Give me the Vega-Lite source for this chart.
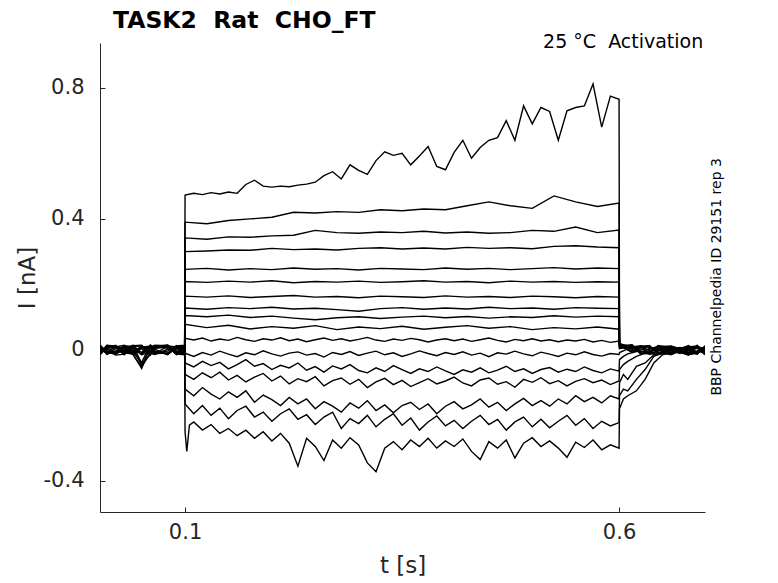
{
  "$schema": "https://vega.github.io/schema/vega-lite/v6.json",
  "width": 605,
  "height": 469,
  "autosize": "none",
  "padding": {"left": 100, "top": 43, "right": 73, "bottom": 71},
  "background": "white",
  "config": {
    "view": {"stroke": null},
    "font": "DejaVu Sans",
    "axis": {
      "grid": false,
      "domainColor": "#262626",
      "tickColor": "#262626",
      "labelColor": "#262626",
      "titleColor": "#262626",
      "labelFont": "DejaVu Sans",
      "titleFont": "DejaVu Sans",
      "labelFontSize": 21,
      "titleFontSize": 23,
      "titleFontWeight": "normal",
      "tickSize": -5
    }
  },
  "title": {
    "text": "TASK2\u00a0\u00a0Rat\u00a0\u00a0CHO_FT",
    "anchor": "start",
    "frame": "group",
    "font": "DejaVu Sans",
    "fontSize": 23.5,
    "fontWeight": "bold",
    "color": "black",
    "dx": 13,
    "offset": 0
  },
  "data": {"values": [
    {"s":1,"t":0.002,"i":0.010},{"s":1,"t":0.01,"i":-0.004},{"s":1,"t":0.02,"i":-0.012},{"s":1,"t":0.03,"i":0.006},{"s":1,"t":0.04,"i":0.013},{"s":1,"t":0.05,"i":-0.014},{"s":1,"t":0.06,"i":0.009},{"s":1,"t":0.065,"i":-0.009},{"s":1,"t":0.08,"i":-0.011},{"s":1,"t":0.09,"i":0.003},{"s":1,"t":0.0995,"i":0.012},
    {"s":1,"t":0.10,"i":0.473},{"s":1,"t":0.11,"i":0.478},{"s":1,"t":0.12,"i":0.474},{"s":1,"t":0.13,"i":0.480},{"s":1,"t":0.14,"i":0.476},{"s":1,"t":0.15,"i":0.482},{"s":1,"t":0.16,"i":0.478},{"s":1,"t":0.17,"i":0.505},{"s":1,"t":0.18,"i":0.518},{"s":1,"t":0.19,"i":0.500},
    {"s":1,"t":0.20,"i":0.497},{"s":1,"t":0.21,"i":0.500},{"s":1,"t":0.22,"i":0.498},{"s":1,"t":0.23,"i":0.503},{"s":1,"t":0.24,"i":0.506},{"s":1,"t":0.25,"i":0.512},{"s":1,"t":0.26,"i":0.532},{"s":1,"t":0.27,"i":0.544},{"s":1,"t":0.28,"i":0.522},{"s":1,"t":0.29,"i":0.565},
    {"s":1,"t":0.30,"i":0.548},{"s":1,"t":0.31,"i":0.536},{"s":1,"t":0.32,"i":0.578},{"s":1,"t":0.33,"i":0.605},{"s":1,"t":0.34,"i":0.594},{"s":1,"t":0.35,"i":0.600},{"s":1,"t":0.36,"i":0.565},{"s":1,"t":0.37,"i":0.592},{"s":1,"t":0.38,"i":0.621},{"s":1,"t":0.39,"i":0.560},
    {"s":1,"t":0.40,"i":0.550},{"s":1,"t":0.41,"i":0.603},{"s":1,"t":0.42,"i":0.640},{"s":1,"t":0.43,"i":0.585},{"s":1,"t":0.44,"i":0.618},{"s":1,"t":0.45,"i":0.640},{"s":1,"t":0.46,"i":0.648},{"s":1,"t":0.47,"i":0.700},{"s":1,"t":0.48,"i":0.640},{"s":1,"t":0.49,"i":0.745},
    {"s":1,"t":0.50,"i":0.690},{"s":1,"t":0.51,"i":0.740},{"s":1,"t":0.52,"i":0.728},{"s":1,"t":0.53,"i":0.640},{"s":1,"t":0.54,"i":0.730},{"s":1,"t":0.55,"i":0.740},{"s":1,"t":0.56,"i":0.745},{"s":1,"t":0.57,"i":0.812},{"s":1,"t":0.58,"i":0.680},{"s":1,"t":0.59,"i":0.775},{"s":1,"t":0.60,"i":0.765},
    {"s":1,"t":0.6005,"i":0.018},{"s":1,"t":0.615,"i":0.010},{"s":1,"t":0.625,"i":-0.009},{"s":1,"t":0.635,"i":-0.008},{"s":1,"t":0.645,"i":0.012},{"s":1,"t":0.66,"i":0.009},{"s":1,"t":0.68,"i":-0.013},{"s":1,"t":0.69,"i":-0.006},{"s":1,"t":0.699,"i":0.004},

    {"s":2,"t":0.002,"i":-0.012},{"s":2,"t":0.01,"i":0.013},{"s":2,"t":0.02,"i":0.009},{"s":2,"t":0.03,"i":-0.010},{"s":2,"t":0.04,"i":-0.006},{"s":2,"t":0.05,"i":0.011},{"s":2,"t":0.06,"i":-0.013},{"s":2,"t":0.065,"i":0.005},{"s":2,"t":0.08,"i":0.010},{"s":2,"t":0.09,"i":-0.012},{"s":2,"t":0.0995,"i":-0.004},
    {"s":2,"t":0.1,"i":0.390},{"s":2,"t":0.125,"i":0.385},{"s":2,"t":0.15,"i":0.395},{"s":2,"t":0.175,"i":0.400},{"s":2,"t":0.2,"i":0.405},{"s":2,"t":0.225,"i":0.420},{"s":2,"t":0.25,"i":0.418},{"s":2,"t":0.275,"i":0.422},{"s":2,"t":0.3,"i":0.420},{"s":2,"t":0.325,"i":0.428},{"s":2,"t":0.35,"i":0.425},
    {"s":2,"t":0.375,"i":0.430},{"s":2,"t":0.4,"i":0.428},{"s":2,"t":0.425,"i":0.440},{"s":2,"t":0.45,"i":0.452},{"s":2,"t":0.475,"i":0.440},{"s":2,"t":0.5,"i":0.432},{"s":2,"t":0.525,"i":0.470},{"s":2,"t":0.55,"i":0.452},{"s":2,"t":0.575,"i":0.438},{"s":2,"t":0.6,"i":0.448},
    {"s":2,"t":0.6005,"i":0.020},{"s":2,"t":0.615,"i":0.002},{"s":2,"t":0.625,"i":0.011},{"s":2,"t":0.635,"i":0.012},{"s":2,"t":0.645,"i":-0.008},{"s":2,"t":0.66,"i":-0.010},{"s":2,"t":0.68,"i":0.008},{"s":2,"t":0.69,"i":0.010},{"s":2,"t":0.699,"i":-0.014},

    {"s":3,"t":0.002,"i":0.009},{"s":3,"t":0.01,"i":-0.006},{"s":3,"t":0.02,"i":-0.014},{"s":3,"t":0.03,"i":0.011},{"s":3,"t":0.04,"i":0.005},{"s":3,"t":0.05,"i":-0.048},{"s":3,"t":0.06,"i":0.006},{"s":3,"t":0.065,"i":-0.013},{"s":3,"t":0.08,"i":0.012},{"s":3,"t":0.09,"i":0.009},{"s":3,"t":0.0995,"i":-0.008},
    {"s":3,"t":0.1,"i":0.342},{"s":3,"t":0.125,"i":0.338},{"s":3,"t":0.15,"i":0.345},{"s":3,"t":0.175,"i":0.344},{"s":3,"t":0.2,"i":0.348},{"s":3,"t":0.225,"i":0.350},{"s":3,"t":0.25,"i":0.365},{"s":3,"t":0.275,"i":0.358},{"s":3,"t":0.3,"i":0.356},{"s":3,"t":0.325,"i":0.360},{"s":3,"t":0.35,"i":0.358},
    {"s":3,"t":0.375,"i":0.362},{"s":3,"t":0.4,"i":0.357},{"s":3,"t":0.425,"i":0.360},{"s":3,"t":0.45,"i":0.356},{"s":3,"t":0.475,"i":0.358},{"s":3,"t":0.5,"i":0.365},{"s":3,"t":0.525,"i":0.362},{"s":3,"t":0.55,"i":0.375},{"s":3,"t":0.575,"i":0.358},{"s":3,"t":0.6,"i":0.366},
    {"s":3,"t":0.6005,"i":0.012},{"s":3,"t":0.615,"i":0.016},{"s":3,"t":0.625,"i":-0.012},{"s":3,"t":0.635,"i":-0.004},{"s":3,"t":0.645,"i":0.005},{"s":3,"t":0.66,"i":0.007},{"s":3,"t":0.68,"i":-0.015},{"s":3,"t":0.69,"i":-0.010},{"s":3,"t":0.699,"i":0.009},

    {"s":4,"t":0.002,"i":-0.005},{"s":4,"t":0.01,"i":0.008},{"s":4,"t":0.02,"i":0.013},{"s":4,"t":0.03,"i":-0.004},{"s":4,"t":0.04,"i":-0.011},{"s":4,"t":0.05,"i":0.004},{"s":4,"t":0.06,"i":-0.016},{"s":4,"t":0.065,"i":0.012},{"s":4,"t":0.08,"i":0.005},{"s":4,"t":0.09,"i":-0.010},{"s":4,"t":0.0995,"i":0.012},
    {"s":4,"t":0.1,"i":0.300},{"s":4,"t":0.125,"i":0.302},{"s":4,"t":0.15,"i":0.305},{"s":4,"t":0.175,"i":0.304},{"s":4,"t":0.2,"i":0.310},{"s":4,"t":0.225,"i":0.306},{"s":4,"t":0.25,"i":0.308},{"s":4,"t":0.275,"i":0.305},{"s":4,"t":0.3,"i":0.310},{"s":4,"t":0.325,"i":0.312},{"s":4,"t":0.35,"i":0.308},
    {"s":4,"t":0.375,"i":0.311},{"s":4,"t":0.4,"i":0.308},{"s":4,"t":0.425,"i":0.313},{"s":4,"t":0.45,"i":0.310},{"s":4,"t":0.475,"i":0.312},{"s":4,"t":0.5,"i":0.309},{"s":4,"t":0.525,"i":0.316},{"s":4,"t":0.55,"i":0.318},{"s":4,"t":0.575,"i":0.314},{"s":4,"t":0.6,"i":0.312},
    {"s":4,"t":0.6005,"i":0.015},{"s":4,"t":0.615,"i":-0.006},{"s":4,"t":0.625,"i":0.008},{"s":4,"t":0.635,"i":0.013},{"s":4,"t":0.645,"i":-0.013},{"s":4,"t":0.66,"i":-0.012},{"s":4,"t":0.68,"i":0.004},{"s":4,"t":0.69,"i":0.012},{"s":4,"t":0.699,"i":-0.007},

    {"s":5,"t":0.002,"i":0.014},{"s":5,"t":0.01,"i":-0.012},{"s":5,"t":0.02,"i":-0.007},{"s":5,"t":0.03,"i":0.013},{"s":5,"t":0.04,"i":0.010},{"s":5,"t":0.05,"i":-0.012},{"s":5,"t":0.06,"i":0.013},{"s":5,"t":0.065,"i":-0.003},{"s":5,"t":0.08,"i":-0.014},{"s":5,"t":0.09,"i":0.006},{"s":5,"t":0.0995,"i":0.004},
    {"s":5,"t":0.1,"i":0.246},{"s":5,"t":0.125,"i":0.249},{"s":5,"t":0.15,"i":0.244},{"s":5,"t":0.175,"i":0.248},{"s":5,"t":0.2,"i":0.245},{"s":5,"t":0.225,"i":0.250},{"s":5,"t":0.25,"i":0.246},{"s":5,"t":0.275,"i":0.248},{"s":5,"t":0.3,"i":0.244},{"s":5,"t":0.325,"i":0.249},{"s":5,"t":0.35,"i":0.247},
    {"s":5,"t":0.375,"i":0.245},{"s":5,"t":0.4,"i":0.250},{"s":5,"t":0.425,"i":0.246},{"s":5,"t":0.45,"i":0.249},{"s":5,"t":0.475,"i":0.245},{"s":5,"t":0.5,"i":0.248},{"s":5,"t":0.525,"i":0.251},{"s":5,"t":0.55,"i":0.247},{"s":5,"t":0.575,"i":0.250},{"s":5,"t":0.6,"i":0.248},
    {"s":5,"t":0.6005,"i":0.007},{"s":5,"t":0.615,"i":0.014},{"s":5,"t":0.625,"i":-0.004},{"s":5,"t":0.635,"i":-0.010},{"s":5,"t":0.645,"i":0.009},{"s":5,"t":0.66,"i":0.012},{"s":5,"t":0.68,"i":-0.006},{"s":5,"t":0.69,"i":-0.013},{"s":5,"t":0.699,"i":0.013},

    {"s":6,"t":0.002,"i":-0.015},{"s":6,"t":0.01,"i":0.010},{"s":6,"t":0.02,"i":0.006},{"s":6,"t":0.03,"i":-0.008},{"s":6,"t":0.04,"i":-0.013},{"s":6,"t":0.05,"i":0.008},{"s":6,"t":0.06,"i":0.004},{"s":6,"t":0.065,"i":0.014},{"s":6,"t":0.08,"i":0.011},{"s":6,"t":0.09,"i":-0.002},{"s":6,"t":0.0995,"i":-0.011},
    {"s":6,"t":0.1,"i":0.209},{"s":6,"t":0.125,"i":0.206},{"s":6,"t":0.15,"i":0.210},{"s":6,"t":0.175,"i":0.207},{"s":6,"t":0.2,"i":0.211},{"s":6,"t":0.225,"i":0.205},{"s":6,"t":0.25,"i":0.209},{"s":6,"t":0.275,"i":0.207},{"s":6,"t":0.3,"i":0.210},{"s":6,"t":0.325,"i":0.206},{"s":6,"t":0.35,"i":0.208},
    {"s":6,"t":0.375,"i":0.211},{"s":6,"t":0.4,"i":0.207},{"s":6,"t":0.425,"i":0.209},{"s":6,"t":0.45,"i":0.205},{"s":6,"t":0.475,"i":0.210},{"s":6,"t":0.5,"i":0.207},{"s":6,"t":0.525,"i":0.209},{"s":6,"t":0.55,"i":0.206},{"s":6,"t":0.575,"i":0.208},{"s":6,"t":0.6,"i":0.207},
    {"s":6,"t":0.6005,"i":0.019},{"s":6,"t":0.615,"i":0.002},{"s":6,"t":0.625,"i":0.012},{"s":6,"t":0.635,"i":0.008},{"s":6,"t":0.645,"i":-0.006},{"s":6,"t":0.66,"i":-0.015},{"s":6,"t":0.68,"i":0.011},{"s":6,"t":0.69,"i":0.007},{"s":6,"t":0.699,"i":-0.004},

    {"s":7,"t":0.002,"i":0.004},{"s":7,"t":0.01,"i":-0.009},{"s":7,"t":0.02,"i":0.012},{"s":7,"t":0.03,"i":0.004},{"s":7,"t":0.04,"i":-0.014},{"s":7,"t":0.05,"i":-0.052},{"s":7,"t":0.06,"i":-0.010},{"s":7,"t":0.065,"i":-0.010},{"s":7,"t":0.08,"i":-0.004},{"s":7,"t":0.09,"i":0.012},{"s":7,"t":0.0995,"i":0.014},
    {"s":7,"t":0.1,"i":0.164},{"s":7,"t":0.125,"i":0.161},{"s":7,"t":0.15,"i":0.165},{"s":7,"t":0.175,"i":0.160},{"s":7,"t":0.2,"i":0.163},{"s":7,"t":0.225,"i":0.166},{"s":7,"t":0.25,"i":0.161},{"s":7,"t":0.275,"i":0.163},{"s":7,"t":0.3,"i":0.159},{"s":7,"t":0.325,"i":0.164},{"s":7,"t":0.35,"i":0.162},
    {"s":7,"t":0.375,"i":0.160},{"s":7,"t":0.4,"i":0.165},{"s":7,"t":0.425,"i":0.161},{"s":7,"t":0.45,"i":0.163},{"s":7,"t":0.475,"i":0.160},{"s":7,"t":0.5,"i":0.164},{"s":7,"t":0.525,"i":0.162},{"s":7,"t":0.55,"i":0.159},{"s":7,"t":0.575,"i":0.163},{"s":7,"t":0.6,"i":0.161},
    {"s":7,"t":0.6005,"i":0.010},{"s":7,"t":0.615,"i":0.013},{"s":7,"t":0.625,"i":-0.011},{"s":7,"t":0.635,"i":-0.012},{"s":7,"t":0.645,"i":0.013},{"s":7,"t":0.66,"i":0.005},{"s":7,"t":0.68,"i":-0.010},{"s":7,"t":0.69,"i":-0.003},{"s":7,"t":0.699,"i":0.008},

    {"s":8,"t":0.002,"i":-0.008},{"s":8,"t":0.01,"i":0.005},{"s":8,"t":0.02,"i":-0.016},{"s":8,"t":0.03,"i":-0.013},{"s":8,"t":0.04,"i":0.008},{"s":8,"t":0.05,"i":0.013},{"s":8,"t":0.06,"i":-0.006},{"s":8,"t":0.065,"i":0.007},{"s":8,"t":0.08,"i":0.015},{"s":8,"t":0.09,"i":-0.006},{"s":8,"t":0.0995,"i":-0.013},
    {"s":8,"t":0.1,"i":0.128},{"s":8,"t":0.125,"i":0.124},{"s":8,"t":0.15,"i":0.129},{"s":8,"t":0.175,"i":0.126},{"s":8,"t":0.2,"i":0.130},{"s":8,"t":0.225,"i":0.125},{"s":8,"t":0.25,"i":0.127},{"s":8,"t":0.275,"i":0.123},{"s":8,"t":0.3,"i":0.118},{"s":8,"t":0.325,"i":0.126},{"s":8,"t":0.35,"i":0.129},
    {"s":8,"t":0.375,"i":0.124},{"s":8,"t":0.4,"i":0.128},{"s":8,"t":0.425,"i":0.125},{"s":8,"t":0.45,"i":0.130},{"s":8,"t":0.475,"i":0.126},{"s":8,"t":0.5,"i":0.128},{"s":8,"t":0.525,"i":0.124},{"s":8,"t":0.55,"i":0.129},{"s":8,"t":0.575,"i":0.127},{"s":8,"t":0.6,"i":0.126},
    {"s":8,"t":0.6005,"i":0.014},{"s":8,"t":0.615,"i":-0.008},{"s":8,"t":0.625,"i":0.006},{"s":8,"t":0.635,"i":0.010},{"s":8,"t":0.645,"i":-0.010},{"s":8,"t":0.66,"i":0.002},{"s":8,"t":0.68,"i":-0.016},{"s":8,"t":0.69,"i":0.014},{"s":8,"t":0.699,"i":-0.010},

    {"s":9,"t":0.002,"i":0.012},{"s":9,"t":0.01,"i":-0.014},{"s":9,"t":0.02,"i":0.004},{"s":9,"t":0.03,"i":0.009},{"s":9,"t":0.04,"i":-0.009},{"s":9,"t":0.05,"i":-0.007},{"s":9,"t":0.06,"i":0.014},{"s":9,"t":0.065,"i":-0.005},{"s":9,"t":0.08,"i":-0.012},{"s":9,"t":0.09,"i":0.011},{"s":9,"t":0.0995,"i":0.007},
    {"s":9,"t":0.1,"i":0.105},{"s":9,"t":0.125,"i":0.101},{"s":9,"t":0.15,"i":0.106},{"s":9,"t":0.175,"i":0.099},{"s":9,"t":0.2,"i":0.103},{"s":9,"t":0.225,"i":0.097},{"s":9,"t":0.25,"i":0.092},{"s":9,"t":0.275,"i":0.098},{"s":9,"t":0.3,"i":0.101},{"s":9,"t":0.325,"i":0.096},{"s":9,"t":0.35,"i":0.100},
    {"s":9,"t":0.375,"i":0.103},{"s":9,"t":0.4,"i":0.098},{"s":9,"t":0.425,"i":0.102},{"s":9,"t":0.45,"i":0.097},{"s":9,"t":0.475,"i":0.101},{"s":9,"t":0.5,"i":0.099},{"s":9,"t":0.525,"i":0.104},{"s":9,"t":0.55,"i":0.100},{"s":9,"t":0.575,"i":0.103},{"s":9,"t":0.6,"i":0.101},
    {"s":9,"t":0.6005,"i":0.004},{"s":9,"t":0.615,"i":0.011},{"s":9,"t":0.625,"i":-0.013},{"s":9,"t":0.635,"i":0.005},{"s":9,"t":0.645,"i":0.004},{"s":9,"t":0.66,"i":-0.008},{"s":9,"t":0.68,"i":0.013},{"s":9,"t":0.69,"i":-0.008},{"s":9,"t":0.699,"i":0.002},

    {"s":10,"t":0.002,"i":-0.004},{"s":10,"t":0.01,"i":0.011},{"s":10,"t":0.02,"i":-0.011},{"s":10,"t":0.03,"i":-0.002},{"s":10,"t":0.04,"i":0.014},{"s":10,"t":0.05,"i":-0.042},{"s":10,"t":0.06,"i":-0.014},{"s":10,"t":0.065,"i":0.010},{"s":10,"t":0.08,"i":0.008},{"s":10,"t":0.09,"i":-0.013},{"s":10,"t":0.0995,"i":-0.015},
    {"s":10,"t":0.1,"i":0.078},{"s":10,"t":0.125,"i":0.068},{"s":10,"t":0.15,"i":0.075},{"s":10,"t":0.175,"i":0.064},{"s":10,"t":0.2,"i":0.071},{"s":10,"t":0.225,"i":0.066},{"s":10,"t":0.25,"i":0.074},{"s":10,"t":0.275,"i":0.062},{"s":10,"t":0.3,"i":0.070},{"s":10,"t":0.325,"i":0.065},{"s":10,"t":0.35,"i":0.072},
    {"s":10,"t":0.375,"i":0.063},{"s":10,"t":0.4,"i":0.069},{"s":10,"t":0.425,"i":0.074},{"s":10,"t":0.45,"i":0.066},{"s":10,"t":0.475,"i":0.071},{"s":10,"t":0.5,"i":0.062},{"s":10,"t":0.525,"i":0.068},{"s":10,"t":0.55,"i":0.064},{"s":10,"t":0.575,"i":0.070},{"s":10,"t":0.6,"i":0.063},
    {"s":10,"t":0.6005,"i":0.016},{"s":10,"t":0.615,"i":-0.004},{"s":10,"t":0.625,"i":0.009},{"s":10,"t":0.635,"i":-0.011},{"s":10,"t":0.645,"i":-0.014},{"s":10,"t":0.66,"i":0.010},{"s":10,"t":0.68,"i":-0.002},{"s":10,"t":0.69,"i":0.005},{"s":10,"t":0.699,"i":-0.015},

    {"s":11,"t":0.002,"i":0.015},{"s":11,"t":0.01,"i":-0.007},{"s":11,"t":0.02,"i":0.009},{"s":11,"t":0.03,"i":0.014},{"s":11,"t":0.04,"i":-0.004},{"s":11,"t":0.05,"i":0.009},{"s":11,"t":0.06,"i":0.011},{"s":11,"t":0.065,"i":-0.012},{"s":11,"t":0.08,"i":-0.009},{"s":11,"t":0.09,"i":0.004},{"s":11,"t":0.0995,"i":0.013},
    {"s":11,"t":0.10,"i":0.035},{"s":11,"t":0.11,"i":0.030},{"s":11,"t":0.12,"i":0.036},{"s":11,"t":0.13,"i":0.027},{"s":11,"t":0.14,"i":0.033},{"s":11,"t":0.15,"i":0.029},{"s":11,"t":0.16,"i":0.038},{"s":11,"t":0.17,"i":0.031},{"s":11,"t":0.18,"i":0.026},{"s":11,"t":0.19,"i":0.034},
    {"s":11,"t":0.20,"i":0.030},{"s":11,"t":0.21,"i":0.037},{"s":11,"t":0.22,"i":0.028},{"s":11,"t":0.23,"i":0.033},{"s":11,"t":0.24,"i":0.025},{"s":11,"t":0.25,"i":0.031},{"s":11,"t":0.26,"i":0.036},{"s":11,"t":0.27,"i":0.029},{"s":11,"t":0.28,"i":0.034},{"s":11,"t":0.29,"i":0.027},
    {"s":11,"t":0.30,"i":0.032},{"s":11,"t":0.31,"i":0.038},{"s":11,"t":0.32,"i":0.030},{"s":11,"t":0.33,"i":0.026},{"s":11,"t":0.34,"i":0.033},{"s":11,"t":0.35,"i":0.029},{"s":11,"t":0.36,"i":0.035},{"s":11,"t":0.37,"i":0.031},{"s":11,"t":0.38,"i":0.024},{"s":11,"t":0.39,"i":0.030},
    {"s":11,"t":0.40,"i":0.034},{"s":11,"t":0.41,"i":0.028},{"s":11,"t":0.42,"i":0.033},{"s":11,"t":0.43,"i":0.026},{"s":11,"t":0.44,"i":0.031},{"s":11,"t":0.45,"i":0.036},{"s":11,"t":0.46,"i":0.029},{"s":11,"t":0.47,"i":0.024},{"s":11,"t":0.48,"i":0.032},{"s":11,"t":0.49,"i":0.028},
    {"s":11,"t":0.50,"i":0.034},{"s":11,"t":0.51,"i":0.027},{"s":11,"t":0.52,"i":0.031},{"s":11,"t":0.53,"i":0.025},{"s":11,"t":0.54,"i":0.030},{"s":11,"t":0.55,"i":0.027},{"s":11,"t":0.56,"i":0.032},{"s":11,"t":0.57,"i":0.024},{"s":11,"t":0.58,"i":0.029},{"s":11,"t":0.59,"i":0.023},{"s":11,"t":0.60,"i":0.027},
    {"s":11,"t":0.6005,"i":0.008},{"s":11,"t":0.615,"i":0.006},{"s":11,"t":0.625,"i":-0.006},{"s":11,"t":0.635,"i":0.002},{"s":11,"t":0.645,"i":0.011},{"s":11,"t":0.66,"i":-0.013},{"s":11,"t":0.68,"i":0.006},{"s":11,"t":0.69,"i":-0.012},{"s":11,"t":0.699,"i":0.011},

    {"s":12,"t":0.002,"i":-0.013},{"s":12,"t":0.01,"i":0.004},{"s":12,"t":0.02,"i":0.014},{"s":12,"t":0.03,"i":-0.011},{"s":12,"t":0.04,"i":0.004},{"s":12,"t":0.05,"i":-0.015},{"s":12,"t":0.06,"i":-0.006},{"s":12,"t":0.065,"i":0.009},{"s":12,"t":0.08,"i":0.013},{"s":12,"t":0.09,"i":-0.015},{"s":12,"t":0.0995,"i":-0.007},
    {"s":12,"t":0.10,"i":-0.010},{"s":12,"t":0.11,"i":-0.020},{"s":12,"t":0.12,"i":-0.008},{"s":12,"t":0.13,"i":-0.016},{"s":12,"t":0.14,"i":-0.004},{"s":12,"t":0.15,"i":-0.013},{"s":12,"t":0.16,"i":-0.021},{"s":12,"t":0.17,"i":-0.009},{"s":12,"t":0.18,"i":-0.015},{"s":12,"t":0.19,"i":-0.003},
    {"s":12,"t":0.20,"i":-0.012},{"s":12,"t":0.21,"i":-0.019},{"s":12,"t":0.22,"i":-0.010},{"s":12,"t":0.23,"i":-0.006},{"s":12,"t":0.24,"i":-0.016},{"s":12,"t":0.25,"i":-0.011},{"s":12,"t":0.26,"i":-0.022},{"s":12,"t":0.27,"i":-0.008},{"s":12,"t":0.28,"i":-0.014},{"s":12,"t":0.29,"i":-0.005},
    {"s":12,"t":0.30,"i":-0.017},{"s":12,"t":0.31,"i":-0.010},{"s":12,"t":0.32,"i":-0.004},{"s":12,"t":0.33,"i":-0.015},{"s":12,"t":0.34,"i":-0.009},{"s":12,"t":0.35,"i":-0.020},{"s":12,"t":0.36,"i":-0.012},{"s":12,"t":0.37,"i":-0.003},{"s":12,"t":0.38,"i":-0.011},{"s":12,"t":0.39,"i":-0.018},
    {"s":12,"t":0.40,"i":-0.008},{"s":12,"t":0.41,"i":-0.014},{"s":12,"t":0.42,"i":-0.006},{"s":12,"t":0.43,"i":-0.016},{"s":12,"t":0.44,"i":-0.010},{"s":12,"t":0.45,"i":-0.021},{"s":12,"t":0.46,"i":-0.009},{"s":12,"t":0.47,"i":-0.013},{"s":12,"t":0.48,"i":-0.004},{"s":12,"t":0.49,"i":-0.012},
    {"s":12,"t":0.50,"i":-0.018},{"s":12,"t":0.51,"i":-0.007},{"s":12,"t":0.52,"i":-0.013},{"s":12,"t":0.53,"i":-0.020},{"s":12,"t":0.54,"i":-0.010},{"s":12,"t":0.55,"i":-0.015},{"s":12,"t":0.56,"i":-0.006},{"s":12,"t":0.57,"i":-0.014},{"s":12,"t":0.58,"i":-0.019},{"s":12,"t":0.59,"i":-0.011},{"s":12,"t":0.60,"i":-0.014},
    {"s":12,"t":0.6005,"i":-0.008},{"s":12,"t":0.615,"i":0.009},{"s":12,"t":0.625,"i":0.013},{"s":12,"t":0.635,"i":-0.014},{"s":12,"t":0.645,"i":-0.003},{"s":12,"t":0.66,"i":0.003},{"s":12,"t":0.68,"i":-0.008},{"s":12,"t":0.69,"i":0.009},{"s":12,"t":0.699,"i":-0.005},

    {"s":13,"t":0.002,"i":0.005},{"s":13,"t":0.01,"i":-0.011},{"s":13,"t":0.02,"i":-0.006},{"s":13,"t":0.03,"i":0.007},{"s":13,"t":0.04,"i":-0.014},{"s":13,"t":0.05,"i":-0.057},{"s":13,"t":0.06,"i":0.012},{"s":13,"t":0.065,"i":0.002},{"s":13,"t":0.08,"i":-0.015},{"s":13,"t":0.09,"i":0.010},{"s":13,"t":0.0995,"i":0.005},
    {"s":13,"t":0.10,"i":-0.040},{"s":13,"t":0.11,"i":-0.052},{"s":13,"t":0.12,"i":-0.035},{"s":13,"t":0.13,"i":-0.048},{"s":13,"t":0.14,"i":-0.038},{"s":13,"t":0.15,"i":-0.058},{"s":13,"t":0.16,"i":-0.045},{"s":13,"t":0.17,"i":-0.030},{"s":13,"t":0.18,"i":-0.050},{"s":13,"t":0.19,"i":-0.042},
    {"s":13,"t":0.20,"i":-0.060},{"s":13,"t":0.21,"i":-0.047},{"s":13,"t":0.22,"i":-0.055},{"s":13,"t":0.23,"i":-0.040},{"s":13,"t":0.24,"i":-0.062},{"s":13,"t":0.25,"i":-0.051},{"s":13,"t":0.26,"i":-0.068},{"s":13,"t":0.27,"i":-0.049},{"s":13,"t":0.28,"i":-0.058},{"s":13,"t":0.29,"i":-0.045},
    {"s":13,"t":0.30,"i":-0.063},{"s":13,"t":0.31,"i":-0.070},{"s":13,"t":0.32,"i":-0.055},{"s":13,"t":0.33,"i":-0.066},{"s":13,"t":0.34,"i":-0.048},{"s":13,"t":0.35,"i":-0.060},{"s":13,"t":0.36,"i":-0.072},{"s":13,"t":0.37,"i":-0.058},{"s":13,"t":0.38,"i":-0.066},{"s":13,"t":0.39,"i":-0.052},
    {"s":13,"t":0.40,"i":-0.064},{"s":13,"t":0.41,"i":-0.075},{"s":13,"t":0.42,"i":-0.061},{"s":13,"t":0.43,"i":-0.068},{"s":13,"t":0.44,"i":-0.055},{"s":13,"t":0.45,"i":-0.070},{"s":13,"t":0.46,"i":-0.062},{"s":13,"t":0.47,"i":-0.050},{"s":13,"t":0.48,"i":-0.066},{"s":13,"t":0.49,"i":-0.058},
    {"s":13,"t":0.50,"i":-0.072},{"s":13,"t":0.51,"i":-0.060},{"s":13,"t":0.52,"i":-0.054},{"s":13,"t":0.53,"i":-0.068},{"s":13,"t":0.54,"i":-0.059},{"s":13,"t":0.55,"i":-0.066},{"s":13,"t":0.56,"i":-0.052},{"s":13,"t":0.57,"i":-0.063},{"s":13,"t":0.58,"i":-0.070},{"s":13,"t":0.59,"i":-0.058},{"s":13,"t":0.60,"i":-0.065},
    {"s":13,"t":0.6005,"i":-0.030},{"s":13,"t":0.605,"i":-0.020},{"s":13,"t":0.61,"i":-0.012},{"s":13,"t":0.62,"i":-0.005},{"s":13,"t":0.63,"i":0.005},{"s":13,"t":0.64,"i":-0.009},{"s":13,"t":0.65,"i":0.006},{"s":13,"t":0.67,"i":-0.011},{"s":13,"t":0.69,"i":0.010},{"s":13,"t":0.699,"i":0.003},

    {"s":14,"t":0.002,"i":-0.009},{"s":14,"t":0.01,"i":0.014},{"s":14,"t":0.02,"i":0.011},{"s":14,"t":0.03,"i":-0.006},{"s":14,"t":0.04,"i":0.013},{"s":14,"t":0.05,"i":0.014},{"s":14,"t":0.06,"i":-0.011},{"s":14,"t":0.065,"i":-0.014},{"s":14,"t":0.08,"i":0.002},{"s":14,"t":0.09,"i":0.005},{"s":14,"t":0.0995,"i":-0.012},
    {"s":14,"t":0.10,"i":-0.075},{"s":14,"t":0.11,"i":-0.090},{"s":14,"t":0.12,"i":-0.070},{"s":14,"t":0.13,"i":-0.085},{"s":14,"t":0.14,"i":-0.068},{"s":14,"t":0.15,"i":-0.092},{"s":14,"t":0.16,"i":-0.078},{"s":14,"t":0.17,"i":-0.098},{"s":14,"t":0.18,"i":-0.083},{"s":14,"t":0.19,"i":-0.072},
    {"s":14,"t":0.20,"i":-0.095},{"s":14,"t":0.21,"i":-0.080},{"s":14,"t":0.22,"i":-0.104},{"s":14,"t":0.23,"i":-0.088},{"s":14,"t":0.24,"i":-0.097},{"s":14,"t":0.25,"i":-0.082},{"s":14,"t":0.26,"i":-0.110},{"s":14,"t":0.27,"i":-0.094},{"s":14,"t":0.28,"i":-0.086},{"s":14,"t":0.29,"i":-0.105},
    {"s":14,"t":0.30,"i":-0.090},{"s":14,"t":0.31,"i":-0.115},{"s":14,"t":0.32,"i":-0.098},{"s":14,"t":0.33,"i":-0.087},{"s":14,"t":0.34,"i":-0.106},{"s":14,"t":0.35,"i":-0.093},{"s":14,"t":0.36,"i":-0.112},{"s":14,"t":0.37,"i":-0.100},{"s":14,"t":0.38,"i":-0.088},{"s":14,"t":0.39,"i":-0.104},
    {"s":14,"t":0.40,"i":-0.095},{"s":14,"t":0.41,"i":-0.083},{"s":14,"t":0.42,"i":-0.101},{"s":14,"t":0.43,"i":-0.110},{"s":14,"t":0.44,"i":-0.092},{"s":14,"t":0.45,"i":-0.086},{"s":14,"t":0.46,"i":-0.105},{"s":14,"t":0.47,"i":-0.097},{"s":14,"t":0.48,"i":-0.114},{"s":14,"t":0.49,"i":-0.090},
    {"s":14,"t":0.50,"i":-0.099},{"s":14,"t":0.51,"i":-0.085},{"s":14,"t":0.52,"i":-0.103},{"s":14,"t":0.53,"i":-0.094},{"s":14,"t":0.54,"i":-0.110},{"s":14,"t":0.55,"i":-0.096},{"s":14,"t":0.56,"i":-0.088},{"s":14,"t":0.57,"i":-0.100},{"s":14,"t":0.58,"i":-0.092},{"s":14,"t":0.59,"i":-0.106},{"s":14,"t":0.60,"i":-0.095},
    {"s":14,"t":0.6005,"i":-0.060},{"s":14,"t":0.605,"i":-0.045},{"s":14,"t":0.61,"i":-0.035},{"s":14,"t":0.62,"i":-0.020},{"s":14,"t":0.63,"i":-0.010},{"s":14,"t":0.64,"i":-0.002},{"s":14,"t":0.65,"i":0.008},{"s":14,"t":0.67,"i":-0.007},{"s":14,"t":0.69,"i":-0.011},{"s":14,"t":0.699,"i":0.009},

    {"s":15,"t":0.002,"i":0.010},{"s":15,"t":0.01,"i":-0.003},{"s":15,"t":0.02,"i":-0.013},{"s":15,"t":0.03,"i":0.010},{"s":15,"t":0.04,"i":-0.008},{"s":15,"t":0.05,"i":-0.038},{"s":15,"t":0.06,"i":0.015},{"s":15,"t":0.065,"i":0.006},{"s":15,"t":0.08,"i":0.009},{"s":15,"t":0.09,"i":-0.011},{"s":15,"t":0.0995,"i":0.010},
    {"s":15,"t":0.10,"i":-0.120},{"s":15,"t":0.11,"i":-0.140},{"s":15,"t":0.12,"i":-0.115},{"s":15,"t":0.13,"i":-0.135},{"s":15,"t":0.14,"i":-0.150},{"s":15,"t":0.15,"i":-0.128},{"s":15,"t":0.16,"i":-0.145},{"s":15,"t":0.17,"i":-0.125},{"s":15,"t":0.18,"i":-0.160},{"s":15,"t":0.19,"i":-0.138},
    {"s":15,"t":0.20,"i":-0.152},{"s":15,"t":0.21,"i":-0.170},{"s":15,"t":0.22,"i":-0.145},{"s":15,"t":0.23,"i":-0.165},{"s":15,"t":0.24,"i":-0.150},{"s":15,"t":0.25,"i":-0.180},{"s":15,"t":0.26,"i":-0.158},{"s":15,"t":0.27,"i":-0.172},{"s":15,"t":0.28,"i":-0.190},{"s":15,"t":0.29,"i":-0.162},
    {"s":15,"t":0.30,"i":-0.178},{"s":15,"t":0.31,"i":-0.155},{"s":15,"t":0.32,"i":-0.185},{"s":15,"t":0.33,"i":-0.168},{"s":15,"t":0.34,"i":-0.192},{"s":15,"t":0.35,"i":-0.170},{"s":15,"t":0.36,"i":-0.160},{"s":15,"t":0.37,"i":-0.182},{"s":15,"t":0.38,"i":-0.165},{"s":15,"t":0.39,"i":-0.195},
    {"s":15,"t":0.40,"i":-0.172},{"s":15,"t":0.41,"i":-0.158},{"s":15,"t":0.42,"i":-0.180},{"s":15,"t":0.43,"i":-0.168},{"s":15,"t":0.44,"i":-0.150},{"s":15,"t":0.45,"i":-0.175},{"s":15,"t":0.46,"i":-0.160},{"s":15,"t":0.47,"i":-0.185},{"s":15,"t":0.48,"i":-0.165},{"s":15,"t":0.49,"i":-0.148},
    {"s":15,"t":0.50,"i":-0.170},{"s":15,"t":0.51,"i":-0.155},{"s":15,"t":0.52,"i":-0.172},{"s":15,"t":0.53,"i":-0.150},{"s":15,"t":0.54,"i":-0.165},{"s":15,"t":0.55,"i":-0.140},{"s":15,"t":0.56,"i":-0.158},{"s":15,"t":0.57,"i":-0.145},{"s":15,"t":0.58,"i":-0.162},{"s":15,"t":0.59,"i":-0.140},{"s":15,"t":0.60,"i":-0.150},
    {"s":15,"t":0.6005,"i":-0.100},{"s":15,"t":0.605,"i":-0.075},{"s":15,"t":0.61,"i":-0.090},{"s":15,"t":0.62,"i":-0.050},{"s":15,"t":0.63,"i":-0.040},{"s":15,"t":0.64,"i":-0.015},{"s":15,"t":0.65,"i":-0.005},{"s":15,"t":0.67,"i":0.006},{"s":15,"t":0.69,"i":0.012},{"s":15,"t":0.699,"i":-0.009},

    {"s":16,"t":0.002,"i":-0.014},{"s":16,"t":0.01,"i":0.009},{"s":16,"t":0.02,"i":0.007},{"s":16,"t":0.03,"i":-0.015},{"s":16,"t":0.04,"i":0.011},{"s":16,"t":0.05,"i":-0.009},{"s":16,"t":0.06,"i":-0.002},{"s":16,"t":0.065,"i":-0.008},{"s":16,"t":0.08,"i":-0.011},{"s":16,"t":0.09,"i":0.013},{"s":16,"t":0.0995,"i":-0.005},
    {"s":16,"t":0.10,"i":-0.165},{"s":16,"t":0.11,"i":-0.195},{"s":16,"t":0.12,"i":-0.170},{"s":16,"t":0.13,"i":-0.200},{"s":16,"t":0.14,"i":-0.178},{"s":16,"t":0.15,"i":-0.210},{"s":16,"t":0.16,"i":-0.185},{"s":16,"t":0.17,"i":-0.172},{"s":16,"t":0.18,"i":-0.205},{"s":16,"t":0.19,"i":-0.190},
    {"s":16,"t":0.20,"i":-0.218},{"s":16,"t":0.21,"i":-0.195},{"s":16,"t":0.22,"i":-0.180},{"s":16,"t":0.23,"i":-0.212},{"s":16,"t":0.24,"i":-0.198},{"s":16,"t":0.25,"i":-0.228},{"s":16,"t":0.26,"i":-0.205},{"s":16,"t":0.27,"i":-0.190},{"s":16,"t":0.28,"i":-0.240},{"s":16,"t":0.29,"i":-0.210},
    {"s":16,"t":0.30,"i":-0.225},{"s":16,"t":0.31,"i":-0.200},{"s":16,"t":0.32,"i":-0.235},{"s":16,"t":0.33,"i":-0.212},{"s":16,"t":0.34,"i":-0.195},{"s":16,"t":0.35,"i":-0.230},{"s":16,"t":0.36,"i":-0.208},{"s":16,"t":0.37,"i":-0.245},{"s":16,"t":0.38,"i":-0.220},{"s":16,"t":0.39,"i":-0.202},
    {"s":16,"t":0.40,"i":-0.232},{"s":16,"t":0.41,"i":-0.215},{"s":16,"t":0.42,"i":-0.240},{"s":16,"t":0.43,"i":-0.218},{"s":16,"t":0.44,"i":-0.200},{"s":16,"t":0.45,"i":-0.228},{"s":16,"t":0.46,"i":-0.212},{"s":16,"t":0.47,"i":-0.245},{"s":16,"t":0.48,"i":-0.220},{"s":16,"t":0.49,"i":-0.205},
    {"s":16,"t":0.50,"i":-0.235},{"s":16,"t":0.51,"i":-0.212},{"s":16,"t":0.52,"i":-0.238},{"s":16,"t":0.53,"i":-0.218},{"s":16,"t":0.54,"i":-0.200},{"s":16,"t":0.55,"i":-0.230},{"s":16,"t":0.56,"i":-0.210},{"s":16,"t":0.57,"i":-0.240},{"s":16,"t":0.58,"i":-0.218},{"s":16,"t":0.59,"i":-0.232},{"s":16,"t":0.60,"i":-0.222},
    {"s":16,"t":0.6005,"i":-0.140},{"s":16,"t":0.605,"i":-0.120},{"s":16,"t":0.61,"i":-0.125},{"s":16,"t":0.62,"i":-0.090},{"s":16,"t":0.63,"i":-0.060},{"s":16,"t":0.64,"i":-0.020},{"s":16,"t":0.65,"i":-0.010},{"s":16,"t":0.67,"i":0.007},{"s":16,"t":0.69,"i":-0.008},{"s":16,"t":0.699,"i":-0.004},

    {"s":17,"t":0.002,"i":0.008},{"s":17,"t":0.01,"i":-0.010},{"s":17,"t":0.02,"i":-0.003},{"s":17,"t":0.03,"i":0.003},{"s":17,"t":0.04,"i":-0.012},{"s":17,"t":0.05,"i":0.006},{"s":17,"t":0.06,"i":0.009},{"s":17,"t":0.065,"i":0.013},{"s":17,"t":0.08,"i":0.014},{"s":17,"t":0.09,"i":-0.007},{"s":17,"t":0.0995,"i":0.002},
    {"s":17,"t":0.100,"i":-0.250},{"s":17,"t":0.102,"i":-0.310},{"s":17,"t":0.105,"i":-0.230},{"s":17,"t":0.11,"i":-0.220},{"s":17,"t":0.12,"i":-0.245},{"s":17,"t":0.13,"i":-0.228},{"s":17,"t":0.14,"i":-0.255},{"s":17,"t":0.15,"i":-0.240},{"s":17,"t":0.16,"i":-0.262},{"s":17,"t":0.17,"i":-0.245},{"s":17,"t":0.18,"i":-0.270},{"s":17,"t":0.19,"i":-0.250},
    {"s":17,"t":0.20,"i":-0.278},{"s":17,"t":0.21,"i":-0.255},{"s":17,"t":0.22,"i":-0.285},{"s":17,"t":0.23,"i":-0.355},{"s":17,"t":0.24,"i":-0.270},{"s":17,"t":0.25,"i":-0.295},{"s":17,"t":0.26,"i":-0.338},{"s":17,"t":0.27,"i":-0.275},{"s":17,"t":0.28,"i":-0.300},{"s":17,"t":0.29,"i":-0.268},
    {"s":17,"t":0.30,"i":-0.290},{"s":17,"t":0.31,"i":-0.345},{"s":17,"t":0.32,"i":-0.372},{"s":17,"t":0.33,"i":-0.300},{"s":17,"t":0.34,"i":-0.280},{"s":17,"t":0.35,"i":-0.305},{"s":17,"t":0.36,"i":-0.275},{"s":17,"t":0.37,"i":-0.295},{"s":17,"t":0.38,"i":-0.270},{"s":17,"t":0.39,"i":-0.300},
    {"s":17,"t":0.40,"i":-0.278},{"s":17,"t":0.41,"i":-0.295},{"s":17,"t":0.42,"i":-0.272},{"s":17,"t":0.43,"i":-0.310},{"s":17,"t":0.44,"i":-0.335},{"s":17,"t":0.45,"i":-0.280},{"s":17,"t":0.46,"i":-0.300},{"s":17,"t":0.47,"i":-0.275},{"s":17,"t":0.48,"i":-0.330},{"s":17,"t":0.49,"i":-0.285},
    {"s":17,"t":0.50,"i":-0.268},{"s":17,"t":0.51,"i":-0.295},{"s":17,"t":0.52,"i":-0.278},{"s":17,"t":0.53,"i":-0.300},{"s":17,"t":0.54,"i":-0.328},{"s":17,"t":0.55,"i":-0.282},{"s":17,"t":0.56,"i":-0.298},{"s":17,"t":0.57,"i":-0.275},{"s":17,"t":0.58,"i":-0.305},{"s":17,"t":0.59,"i":-0.290},{"s":17,"t":0.60,"i":-0.300},
    {"s":17,"t":0.6005,"i":-0.180},{"s":17,"t":0.605,"i":-0.150},{"s":17,"t":0.61,"i":-0.140},{"s":17,"t":0.62,"i":-0.125},{"s":17,"t":0.63,"i":-0.090},{"s":17,"t":0.64,"i":-0.040},{"s":17,"t":0.65,"i":-0.015},{"s":17,"t":0.67,"i":0.004},{"s":17,"t":0.69,"i":0.009},{"s":17,"t":0.699,"i":-0.006}
  ]},
  "layer": [
    {
      "mark": {"type": "line", "color": "black", "strokeWidth": 1.4, "clip": true},
      "encoding": {
        "x": {
          "field": "t",
          "type": "quantitative",
          "scale": {"domain": [0.002, 0.699], "nice": false, "zero": false},
          "axis": {"values": [0.1, 0.6], "labelExpr": "format(datum.value, '.1f')", "title": "t [s]", "labelPadding": 14, "titlePadding": 12}
        },
        "y": {
          "field": "i",
          "type": "quantitative",
          "scale": {"domain": [-0.495, 0.937], "nice": false, "zero": false},
          "axis": {"values": [-0.4, 0, 0.4, 0.8], "labelExpr": "datum.value === 0 ? '0' : (datum.value < 0 ? '-' : '') + format(abs(datum.value), '.1f')", "title": "I [nA]", "labelPadding": 21, "titlePadding": 4}
        },
        "detail": {"field": "s", "type": "nominal"}
      }
    },
    {
      "data": {"values": [{"label": "25 °C\u00a0\u00a0Activation"}]},
      "mark": {"type": "text", "align": "right", "baseline": "middle", "fontSize": 19, "color": "black", "font": "DejaVu Sans"},
      "encoding": {
        "x": {"datum": 0.697, "type": "quantitative"},
        "y": {"datum": 0.941, "type": "quantitative"},
        "text": {"field": "label"}
      }
    },
    {
      "data": {"values": [{"label": "BBP Channelpedia ID 29151 rep 3"}]},
      "mark": {"type": "text", "align": "center", "baseline": "middle", "angle": 270, "fontSize": 14, "color": "black", "font": "DejaVu Sans"},
      "encoding": {
        "x": {"datum": 0.7128, "type": "quantitative"},
        "y": {"datum": 0.223, "type": "quantitative"},
        "text": {"field": "label"}
      }
    }
  ]
}
